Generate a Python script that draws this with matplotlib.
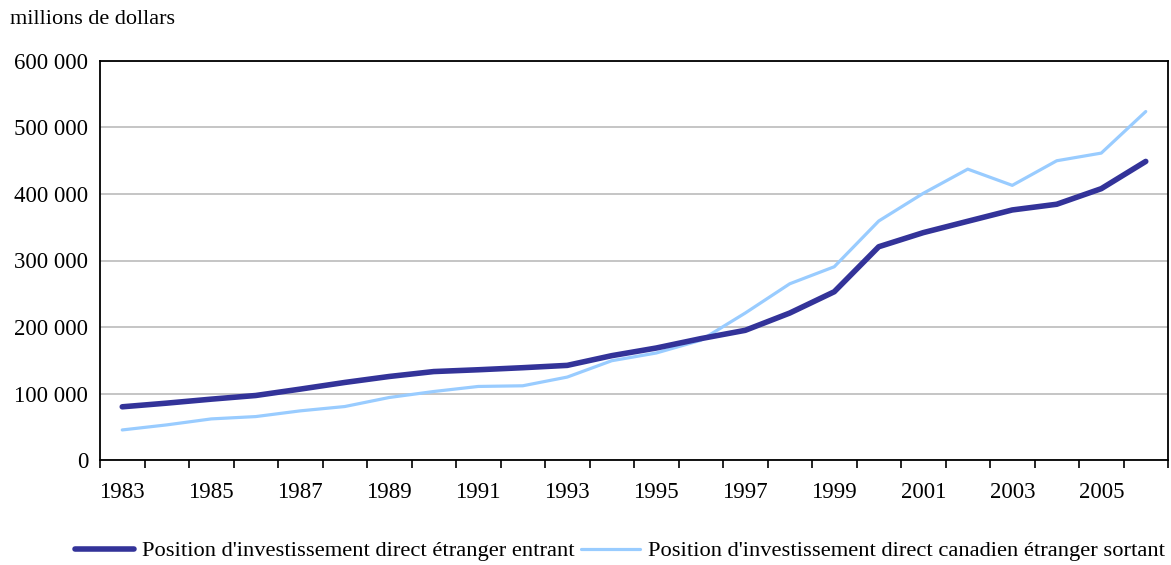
import numpy as np
import matplotlib.pyplot as plt
from matplotlib.ticker import FuncFormatter

years = np.arange(1983, 2007)

# millions de dollars
entrant = [80000, 85500, 91500, 97000, 106600, 116600, 125600, 133000, 135700, 138800,
           142300, 156900, 168400, 182500, 195000, 221000, 253000, 320700, 341900, 359000,
           376000, 384600, 408000, 449000]
sortant = [45200, 52800, 61800, 65300, 73900, 80400, 94000, 103000, 110600, 111600,
           124700, 149300, 160900, 180000, 221000, 265000, 290600, 359400, 401000, 437400,
           413000, 450000, 461500, 524000]

label_entrant = "Position d'investissement direct étranger entrant"
label_sortant = "Position d'investissement direct canadien étranger sortant"

plt.rcParams['font.family'] = ['Liberation Serif', 'DejaVu Serif']
fs = 16

fig = plt.figure(figsize=(11.71, 5.65), dpi=100)
ax = fig.add_axes([100 / 1171, 105 / 565, 1068 / 1171, 399 / 565])

ax.plot(years, entrant, color='#333399', lw=4.0, solid_capstyle='round', label=label_entrant, zorder=3)
ax.plot(years, sortant, color='#99CCFF', lw=2.3, solid_capstyle='round', label=label_sortant, zorder=2)

ax.set_xlim(1982.5, 2006.5)
ax.set_ylim(0, 600000)
ax.set_yticks(np.arange(0, 600001, 100000))
ax.yaxis.set_major_formatter(FuncFormatter(lambda v, p: f"{int(v):,}".replace(",", " ")))
ax.grid(axis='y', color='#c0c0c0', lw=1.3)
ax.set_axisbelow(True)

# tick marks between years, labels every other year
ax.set_xticks(np.arange(1982.5, 2006.6, 1))
ax.set_xticklabels([])
ax.set_xticks(np.arange(1983, 2006, 2), minor=True)
ax.set_xticklabels([str(y) for y in range(1983, 2006, 2)], minor=True)
ax.tick_params(axis='x', which='major', direction='out', length=6, width=1.2, color='black')
ax.tick_params(axis='x', which='minor', length=0, pad=16, labelsize=fs + 0.5)
ax.tick_params(axis='y', length=0, pad=8.5, labelsize=fs + 0.5)

for s in ax.spines.values():
    s.set_color('black')
    s.set_linewidth(1.3)

fig.text(10 / 1171, 1 - 20 / 565, "millions de dollars", fontsize=fs, va='center', ha='left')

fig.legend(loc='center', bbox_to_anchor=(620 / 1171, 1 - 551 / 565), ncol=2, frameon=False,
           fontsize=fs + 0.2, handlelength=2.6, handletextpad=0.35, columnspacing=0.3)

fig.savefig('out.png', dpi=100)
